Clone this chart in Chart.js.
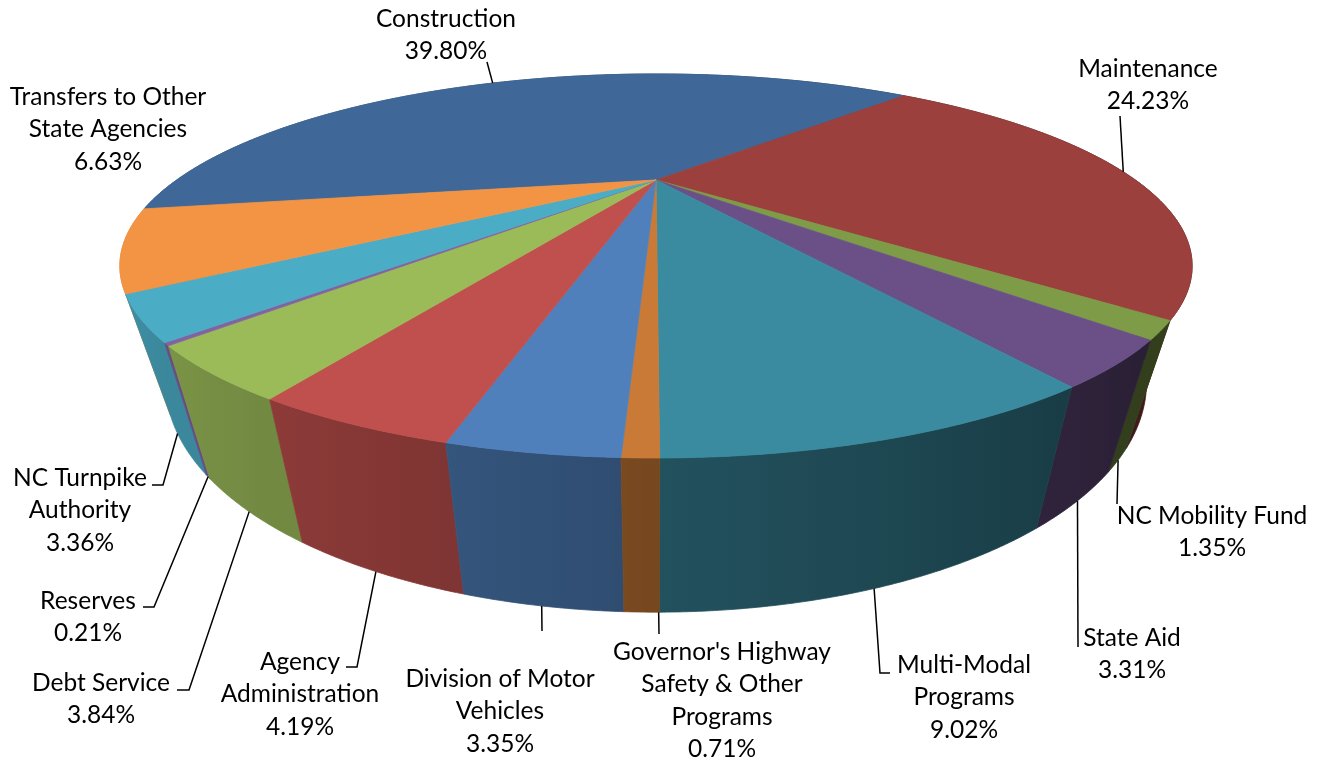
<!DOCTYPE html>
<html>
<head>
<meta charset="utf-8">
<script src="https://cdn.jsdelivr.net/npm/chart.js@4.4.1/dist/chart.umd.min.js"></script>
<style>
  html, body { margin: 0; padding: 0; background: #fff; }
  #wrap { width: 1325px; height: 761px; position: relative; }
</style>
</head>
<body>
<div id="wrap"><canvas id="budget"></canvas></div>
<script>
// slice names (\n = line break in the label) and their shares in percent
const categories = [
    'Construction',
    'Maintenance',
    'NC Mobility Fund',
    'State Aid',
    'Multi-Modal\nPrograms',
    "Governor's Highway\nSafety & Other\nPrograms",
    'Division of Motor\nVehicles',
    'Agency\nAdministration',
    'Debt Service',
    'Reserves',
    'NC Turnpike\nAuthority',
    'Transfers to Other\nState Agencies'
];
const shares = [39.80, 24.23, 1.35, 3.31, 9.02, 0.71, 3.35, 4.19, 3.84, 0.21, 3.36, 6.63];
const percentLabels = shares.map(v => v.toFixed(2) + '%');

const topColors = [
    '#3f6898', '#9b403d', '#7e9b47', '#6a5086', '#3a8ba0', '#c97a36',
    '#4f80bc', '#c0504d', '#9bbb59', '#8064a2', '#4bacc6', '#f39445'
];

// where each label sits: text centre x, centre y of its first line,
// leader bend points (from the slice towards the text)
const labelLayout = [
    { x: 446, y: 19, face: 'top', bends: [[487, 62]] },
    { x: 1148, y: 69, face: 'top', bends: [[1120, 116]] },
    { x: 1212, y: 516, face: 'bottom', bends: [[1117, 504]] },
    { x: 1132, y: 638, face: 'bottom', bends: [[1078, 647]] },
    { x: 964, y: 665, face: 'bottom', bends: [[880, 673], [890, 673]] },
    { x: 722, y: 652, face: 'bottom', at: 0.02, bends: [[659, 634]] },
    { x: 500, y: 679, face: 'bottom', bends: [[542, 631]] },
    { x: 300, y: 662, face: 'bottom', bends: [[357, 667], [346, 667]] },
    { x: 101, y: 683, face: 'bottom', bends: [[189, 690], [177, 690]] },
    { x: 88, y: 601, face: 'bottom', bends: [[154, 607], [143, 607]] },
    { x: 80, y: 478, face: 'bottom', at: 0.7, bends: [[163, 485], [152, 485]] },
    { x: 108, y: 97, face: null, bends: [] }
];

// 3d view, all relative to the pie radius Chart.js works out
const VIEW = {
    stretchX: 1.409,
    squashY: 0.5046,
    lift: -0.301,
    tilt: -0.448,
    thickness: 0.219,
    depthX: 0.915
};
const FONT = '24.5px Lato';
const LINE_H = 32.5;

function shade(hex, f) {
    const n = parseInt(hex.slice(1), 16);
    const r = Math.round(((n >> 16) & 255) * f);
    const g = Math.round(((n >> 8) & 255) * f);
    const b = Math.round((n & 255) * f);
    return `rgb(${r},${g},${b})`;
}

function sideLight(th) {
    return Math.max(0.4, 0.59 - 0.29 * Math.cos(th));
}

const pie3d = {
    id: 'pie3d',
    beforeDatasetsDraw(chart) {
        const ctx = chart.ctx;
        const arcs = chart.getDatasetMeta(0).data;
        const R = arcs[0].outerRadius;
        const cx = arcs[0].x;
        const cy = arcs[0].y + VIEW.lift * R;
        const rx = VIEW.stretchX * R, ry = VIEW.squashY * R;
        const t = VIEW.tilt, k = Math.sqrt(1 - t * t);
        const apex = [cx, cy + ry * t];
        // camera pitch and distance that give this ellipse
        const sinA = ry * (1 - t * t) / (rx * k);
        const cosA = Math.sqrt(1 - sinA * sinA);
        const dist = -cosA / t;
        const h = VIEW.thickness;

        const top = th => {
            const c = Math.cos(th), sn = Math.sin(th), d = 1 + t * sn;
            return [cx + rx * c * k / d, cy + ry * (sn + t) / d];
        };
        const bot = th => {
            const c = Math.cos(th), sn = Math.sin(th);
            const xt = cx + rx * c * k / (1 + t * sn);
            const w = 1 + t * sn + (h / dist) * sinA;
            return [cx + VIEW.depthX * (xt - cx),
                    apex[1] + rx * k * (sn * sinA + h * cosA) / w];
        };
        const steps = (a, b) => Math.max(2, Math.ceil(Math.abs(b - a) / 0.005));

        ctx.save();

        // sides, back to front
        const order = arcs.map((a, i) => i)
            .sort((i, j) => Math.sin((arcs[i].startAngle + arcs[i].endAngle) / 2) -
                            Math.sin((arcs[j].startAngle + arcs[j].endAngle) / 2));
        order.forEach(i => {
            const a = arcs[i];
            const th0 = a.startAngle, th1 = a.endAngle;
            const n = steps(th0, th1);
            ctx.beginPath();
            for (let j = 0; j <= n; j++) {
                const p = top(th0 + (th1 - th0) * j / n);
                j === 0 ? ctx.moveTo(p[0], p[1]) : ctx.lineTo(p[0], p[1]);
            }
            for (let j = n; j >= 0; j--) {
                const p = bot(th0 + (th1 - th0) * j / n);
                ctx.lineTo(p[0], p[1]);
            }
            ctx.closePath();
            const x0 = top(th0)[0], x1 = top(th1)[0];
            let fill;
            if (Math.abs(x1 - x0) > 1) {
                fill = ctx.createLinearGradient(x0, 0, x1, 0);
                for (let j = 0; j <= 8; j++) {
                    const th = th0 + (th1 - th0) * j / 8;
                    const pos = Math.min(1, Math.max(0, (top(th)[0] - x0) / (x1 - x0)));
                    fill.addColorStop(pos, shade(topColors[i], sideLight(th)));
                }
            } else {
                fill = shade(topColors[i], sideLight((th0 + th1) / 2));
            }
            ctx.fillStyle = fill;
            ctx.strokeStyle = fill;
            ctx.lineWidth = 0.8;
            ctx.fill();
            ctx.stroke();
        });

        // top face
        arcs.forEach((a, i) => {
            const th0 = a.startAngle, th1 = a.endAngle;
            const n = steps(th0, th1);
            ctx.beginPath();
            ctx.moveTo(apex[0], apex[1]);
            for (let j = 0; j <= n; j++) {
                const p = top(th0 + (th1 - th0) * j / n);
                ctx.lineTo(p[0], p[1]);
            }
            ctx.closePath();
            ctx.fillStyle = topColors[i];
            ctx.strokeStyle = topColors[i];
            ctx.lineWidth = 0.8;
            ctx.fill();
            ctx.stroke();
        });

        // labels and leader lines
        ctx.font = FONT;
        ctx.fillStyle = '#000';
        ctx.strokeStyle = '#000';
        ctx.lineWidth = 1.5;
        ctx.textAlign = 'center';
        ctx.textBaseline = 'middle';
        arcs.forEach((a, i) => {
            const lay = labelLayout[i];
            if (lay.face) {
                const f = lay.at === undefined ? 0.5 : lay.at;
                const th = a.startAngle + (a.endAngle - a.startAngle) * f;
                const p = lay.face === 'top' ? top(th) : bot(th);
                ctx.beginPath();
                ctx.moveTo(p[0], p[1]);
                lay.bends.forEach(b => ctx.lineTo(b[0], b[1]));
                ctx.stroke();
            }
            const lines = categories[i].split('\n').concat(percentLabels[i]);
            lines.forEach((txt, j) => ctx.fillText(txt, lay.x, lay.y + j * LINE_H));
        });

        ctx.restore();
        return false;
    }
};

new Chart(document.getElementById('budget'), {
    type: 'pie',
    data: {
        labels: categories,
        datasets: [{
            data: shares,
            backgroundColor: topColors,
            borderWidth: 0
        }]
    },
    options: {
        responsive: true,
        maintainAspectRatio: false,
        animation: false,
        events: [],
        rotation: 260,
        layout: { padding: { left: 0, right: 13, top: 0, bottom: 0 } },
        plugins: {
            legend: { display: false },
            tooltip: { enabled: false }
        }
    },
    plugins: [pie3d]
});
</script>
</body>
</html>
